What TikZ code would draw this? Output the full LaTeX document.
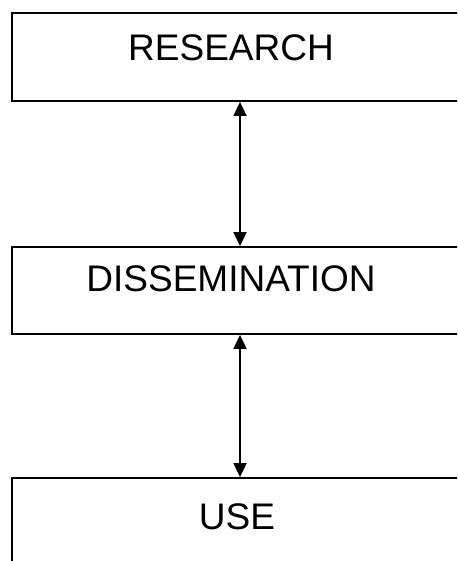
\documentclass[tikz,border=0pt]{standalone}
\usepackage{fontspec}
\setmainfont{Liberation Sans}
\usetikzlibrary{arrows.meta,calc}
\tikzset{
  stagebox/.style={draw, line width=1.8pt, minimum width=463pt, inner sep=0pt},
  stagetext/.style={font=\fontsize{37}{40}\selectfont, inner sep=0pt, anchor=center},
  linkarrow/.style={line width=1.8pt, {Triangle[width=13pt,length=14pt]}-{Triangle[width=13pt,length=14pt]}}
}

\begin{document}
\begin{tikzpicture}[x=1pt, y=-1pt]
    \useasboundingbox (0,0) rectangle (457,561);
    \clip (0,0) rectangle (457,561);
    \node[stagebox, minimum height=88pt] (research) at (243.5, 57) {};
    \node[stagebox, minimum height=87pt] (dissem) at (243.5, 290.5) {};
    \node[stagebox, minimum height=122pt] (use) at (243.5, 539) {};
    % ---------------------
    \node[stagetext] (researchtxt) at (231, 48) {RESEARCH};
    \node[stagetext] (dissemtxt) at (231, 279) {DISSEMINATION};
    \node[stagetext] (usetxt) at (237, 517) {USE};
    % ---------------------
    \draw[linkarrow] (research.south -| 240,0) -- (dissem.north -| 240,0);
    \draw[linkarrow] (dissem.south -| 240,0) -- (use.north -| 240,0);
\end{tikzpicture}
\end{document}
